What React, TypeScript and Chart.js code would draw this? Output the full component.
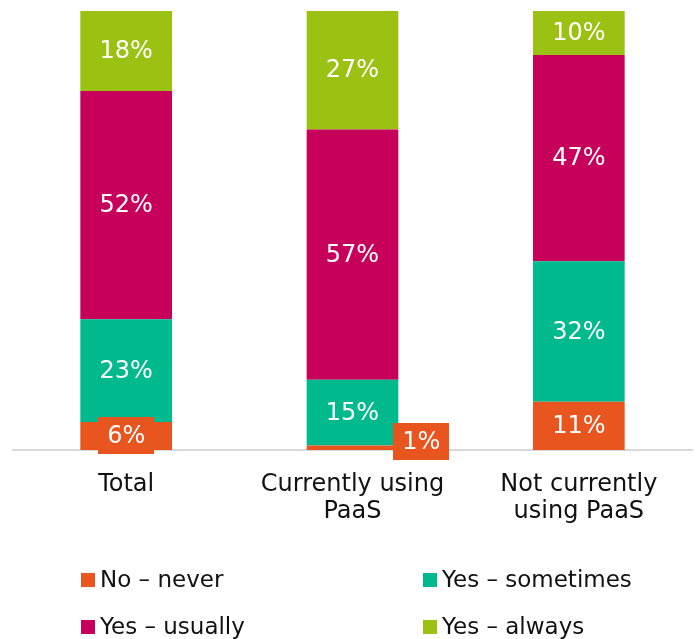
import React, { useEffect, useRef } from "react";
import { Chart, registerables } from "chart.js";

Chart.register(...registerables);

const categories: (string | string[])[] = [
  "Total",
  ["Currently using", "PaaS"],
  ["Not currently", "using PaaS"],
];
const seriesNames = ["No – never", "Yes – sometimes", "Yes – usually", "Yes – always"];
const noNever = [6.4, 1, 11];
const yesSometimes = [23.4, 15, 32];
const yesUsually = [52.0, 57, 47];
const yesAlways = [18.2, 27, 10];
const seriesColors = ["#E8551F", "#00BA8E", "#C7005C", "#9BC112"];

const FONT = "'DejaVu Sans', Verdana, sans-serif";

const valueLabels = {
  id: "valueLabels",
  afterDatasetsDraw(chart: any) {
    const ctx = chart.ctx;
    ctx.save();
    ctx.font = `24px ${FONT}`;
    ctx.textAlign = "center";
    ctx.textBaseline = "middle";
    chart.data.datasets.forEach((ds: any, di: number) => {
      const meta = chart.getDatasetMeta(di);
      meta.data.forEach((el: any, i: number) => {
        const v = ds.data[i];
        const label = `${Math.round(v)}%`;
        const h = Math.abs(el.base - el.y);
        let cx = el.x;
        let cy = (el.y + el.base) / 2;
        if (h < 34) {
          const tw = ctx.measureText(label).width;
          const bw = tw + 18;
          const bh = 37;
          if (h < 10) {
            cx = el.x + el.width / 2 + bw / 2 - 5;
            cy = cy - 6;
          }
          ctx.fillStyle = ds.backgroundColor;
          ctx.fillRect(Math.round(cx - bw / 2), Math.round(cy - bh / 2), Math.round(bw), bh);
        }
        ctx.fillStyle = "#ffffff";
        ctx.fillText(label, cx, cy + 1);
      });
    });
    ctx.restore();
  },
};

const gridLegend = {
  id: "gridLegend",
  afterDraw(chart: any) {
    const ctx = chart.ctx;
    const cols = [81, 423];
    const rows = [580, 627];
    ctx.save();
    ctx.font = `23px ${FONT}`;
    ctx.textAlign = "left";
    ctx.textBaseline = "middle";
    chart.data.datasets.forEach((ds: any, i: number) => {
      const x = cols[i % 2];
      const y = rows[Math.floor(i / 2)];
      ctx.fillStyle = ds.backgroundColor;
      ctx.fillRect(x, y - 7, 14, 14);
      ctx.fillStyle = "#111111";
      ctx.fillText(ds.label, x + 19, y + 1);
    });
    ctx.restore();
  },
};

export default function App() {
  const ref = useRef<HTMLCanvasElement>(null);
  useEffect(() => {
    if (!ref.current) return;
    const values = [noNever, yesSometimes, yesUsually, yesAlways];
    const chart = new Chart(ref.current, {
      type: "bar",
      data: {
        labels: categories as any,
        datasets: values.map((d, i) => ({
          label: seriesNames[i],
          data: d,
          backgroundColor: seriesColors[i],
          borderWidth: 0,
          barPercentage: 0.405,
          categoryPercentage: 1,
        })),
      },
      options: {
        animation: false,
        responsive: false,
        maintainAspectRatio: false,
        layout: { padding: { left: 13, right: 5, top: 11, bottom: 0 } },
        plugins: {
          legend: { display: false },
          tooltip: { enabled: false },
        },
        scales: {
          x: {
            stacked: true,
            grid: { display: false, drawTicks: false },
            border: { display: true, color: "#d9d9d9", width: 2 },
            ticks: {
              color: "#111111",
              font: { family: FONT, size: 24, lineHeight: 1.12 },
              padding: 21,
              maxRotation: 0,
              autoSkip: false,
            },
            afterFit: (scale: any) => {
              scale.height = 189;
            },
          },
          y: {
            stacked: true,
            display: false,
            min: 0,
            max: 100,
          },
        },
      },
      plugins: [valueLabels, gridLegend],
    });
    return () => chart.destroy();
  }, []);
  return (
    <div style={{ position: "fixed", left: 0, top: 0, width: 697, height: 639, background: "#fff" }}>
      <canvas ref={ref} width={697} height={639} style={{ display: "block" }} />
    </div>
  );
}
